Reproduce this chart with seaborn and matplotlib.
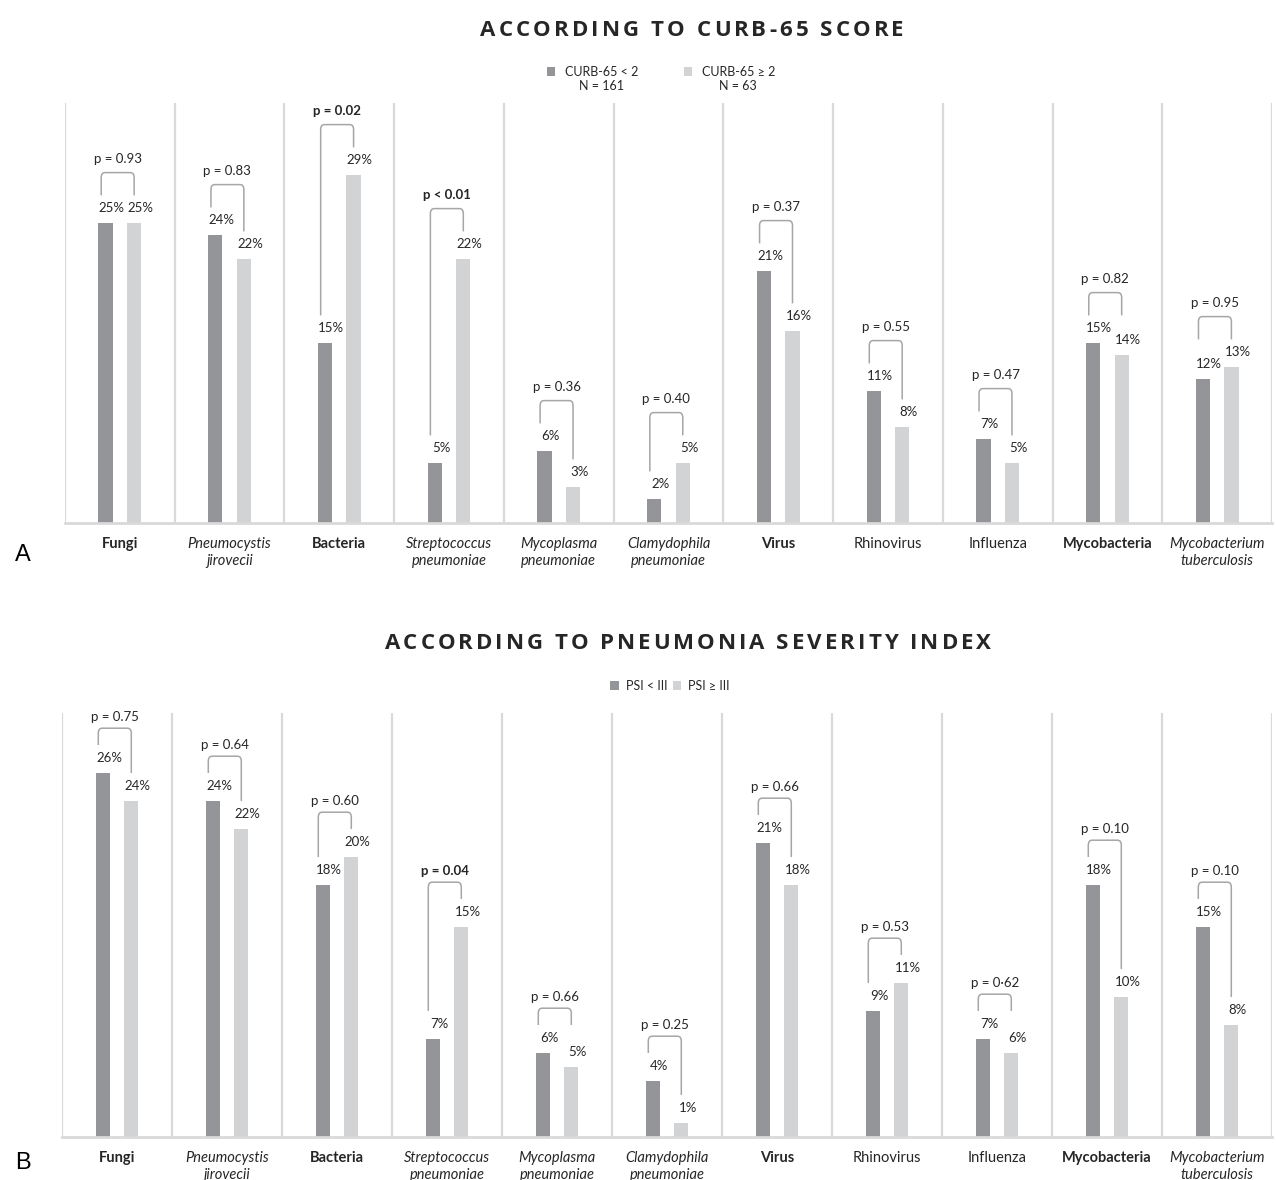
import matplotlib
matplotlib.use('Agg')
import matplotlib.pyplot as plt
import seaborn as sns
import pandas as pd
from matplotlib.path import Path
from matplotlib.patches import PathPatch, Patch

# ---------------- data ----------------
categories = ["Fungi", "Pneumocystis\njirovecii", "Bacteria", "Streptococcus\npneumoniae",
              "Mycoplasma\npneumoniae", "Clamydophila\npneumoniae", "Virus", "Rhinovirus",
              "Influenza", "Mycobacteria", "Mycobacterium\ntuberculosis"]

curb_low = [25, 24, 15, 5, 6, 2, 21, 11, 7, 15, 12]
curb_high = [25, 22, 29, 22, 3, 5, 16, 8, 5, 14, 13]
curb_p = ["p = 0.93", "p = 0.83", "p = 0.02", "p < 0.01", "p = 0.36", "p = 0.40",
          "p = 0.37", "p = 0.55", "p = 0.47", "p = 0.82", "p = 0.95"]
curb_sig = [False, False, True, True, False, False, False, False, False, False, False]
curb_groups = ["CURB-65 < 2", "CURB-65 \u2265 2"]
curb_n = ["N = 161", "N = 63"]

psi_low = [26, 24, 18, 7, 6, 4, 21, 9, 7, 18, 15]
psi_high = [24, 22, 20, 15, 5, 1, 18, 11, 6, 10, 8]
psi_p = ["p = 0.75", "p = 0.64", "p = 0.60", "p = 0.04", "p = 0.66", "p = 0.25",
         "p = 0.66", "p = 0.53", "p = 0\u00b762", "p = 0.10", "p = 0.10"]
psi_sig = [False, False, False, True, False, False, False, False, False, False, False]
psi_groups = ["PSI < III", "PSI \u2265 III"]

# label styles (presentation, not data)
label_styles = ["bold", "italic", "bold", "italic", "italic", "italic",
                "bold", "normal", "normal", "bold", "italic"]

# ---------------- style ----------------
sns.set_theme(style="white")
plt.rcParams['font.family'] = ['Lato', 'DejaVu Sans']

DARK = '#939598'
LIGHT = '#d1d3d4'
SEP = '#d9d9d9'
BRK = '#a6a6a6'
TXT = '#262626'

W, H = 1276, 1180
fig = plt.figure(figsize=(W / 100, H / 100), dpi=100)
axA = fig.add_axes([65 / W, 1 - 523 / H, 1207 / W, 420 / H])
axB = fig.add_axes([62 / W, 1 - 1137 / H, 1210 / W, 424 / H])


def draw_panel(ax, low, high, pvals, sig, groups, ymax, top_off, leg_off, p_off):
    n = len(categories)
    df = pd.DataFrame({
        "cat": categories * 2,
        "val": low + high,
        "grp": [groups[0]] * n + [groups[1]] * n,
    })
    sns.barplot(data=df, x="cat", y="val", hue="grp", hue_order=groups,
                order=categories, palette=[DARK, LIGHT], width=0.52, gap=0.5,
                saturation=1, errorbar=None, linewidth=0, legend=False, ax=ax)
    ax.set_xlim(-0.5, n - 0.5)
    ax.set_ylim(0, ymax)
    for s in ["top", "left", "right"]:
        ax.spines[s].set_visible(False)
    ax.spines["bottom"].set_color(SEP)
    ax.spines["bottom"].set_linewidth(2)
    for k in range(n + 1):
        ax.axvline(k - 0.5, color=SEP, lw=1.6, zorder=0)
    ax.set_yticks([])
    ax.set_xlabel("")
    ax.set_ylabel("")
    ax.tick_params(axis="x", length=0, pad=10)
    ax.set_xticks(range(n))
    ax.set_xticklabels(categories, fontsize=10.5, color=TXT, linespacing=1.3)
    for lab, st in zip(ax.get_xticklabels(), label_styles):
        if st == "bold":
            lab.set_fontweight("bold")
        elif st == "italic":
            lab.set_fontstyle("italic")

    c0, c1 = ax.containers[0], ax.containers[1]
    for i in range(n):
        b0, b1 = c0[i], c1[i]
        x0 = b0.get_x() + b0.get_width() / 2
        x1 = b1.get_x() + b1.get_width() / 2
        v0, v1 = low[i], high[i]
        for xx, vv in ((x0, v0), (x1, v1)):
            ax.annotate(f"{vv}%", (xx, vv), xytext=(4.5, 10.5), textcoords="offset points",
                        ha="center", va="center", fontsize=9.5, color=TXT)
        # bracket
        vmax = max(v0, v1)
        top = vmax + top_off
        l0 = (vmax if vmax - v0 <= 1 else v0) + leg_off
        l1 = (vmax if vmax - v1 <= 1 else v1) + leg_off
        xl = x0 - 0.04
        xr = x1
        rx, ry = 0.035, ymax * 0.012
        verts = [(xl, l0), (xl, top - ry), (xl, top), (xl + rx, top),
                 (xr - rx, top), (xr, top), (xr, top - ry), (xr, l1)]
        codes = [Path.MOVETO, Path.LINETO, Path.CURVE3, Path.CURVE3,
                 Path.LINETO, Path.CURVE3, Path.CURVE3, Path.LINETO]
        ax.add_patch(PathPatch(Path(verts, codes), fill=False, edgecolor=BRK, lw=1.1,
                               clip_on=False))
        ax.text((xl + xr) / 2, top + p_off, pvals[i], ha="center", va="center",
                fontsize=9.5, color=TXT, fontweight="bold" if sig[i] else "normal",
                clip_on=False)


draw_panel(axA, curb_low, curb_high, curb_p, curb_sig, curb_groups, 35, 4.2, 2.3, 1.1)
draw_panel(axB, psi_low, psi_high, psi_p, psi_sig, psi_groups, 424 / 14, 3.2, 2.0, 0.8)

fig.canvas.draw()
renderer = fig.canvas.get_renderer()


def spaced_title(xc_px, yc_px, s, spacing_px, **kw):
    widths = []
    for ch in s:
        t = fig.text(0, 0, ch if ch != " " else "\u00a0", **kw)
        if ch == " ":
            t.set_text("a a")
            w_full = t.get_window_extent(renderer).width
            t.set_text("aa")
            w = w_full - t.get_window_extent(renderer).width
        else:
            w = t.get_window_extent(renderer).width
        t.remove()
        widths.append(w)
    total = sum(widths) + spacing_px * (len(s) - 1)
    x = xc_px - total / 2
    for ch, w in zip(s, widths):
        if ch != " ":
            fig.text(x / W, 1 - yc_px / H, ch, ha="left", va="center", **kw)
        x += w + spacing_px


title_kw = dict(fontsize=16, fontweight="bold", family=["Open Sans", "DejaVu Sans"], color=TXT)
spaced_title(692, 30, "ACCORDING TO CURB-65 SCORE", 3.1, **title_kw)
spaced_title(688, 644, "ACCORDING TO PNEUMONIA SEVERITY INDEX", 3.0, **title_kw)

# panel letters
fig.text(15 / W, 1 - 555 / H, "A", ha="left", va="center", fontsize=17,
         family=["Liberation Sans", "DejaVu Sans"], color="black")
fig.text(15 / W, 1 - 1163 / H, "B", ha="left", va="center", fontsize=17,
         family=["Liberation Sans", "DejaVu Sans"], color="black")

# legends
hA = [Patch(facecolor=DARK, edgecolor="none"), Patch(facecolor=LIGHT, edgecolor="none")]
legA = fig.legend(hA, curb_groups, loc="center", bbox_to_anchor=(661 / W, 1 - 72 / H),
                  ncol=2, frameon=False, fontsize=9, handlelength=0.65, handleheight=0.65,
                  handletextpad=0.8, columnspacing=3.6, labelcolor=TXT)
legB = fig.legend(hA, psi_groups, loc="center", bbox_to_anchor=(670 / W, 1 - 686 / H),
                  ncol=2, frameon=False, fontsize=9, handlelength=0.65, handleheight=0.65,
                  handletextpad=0.6, columnspacing=0.4, labelcolor=TXT)

fig.canvas.draw()
for t, ntxt in zip(legA.get_texts(), curb_n):
    bb = t.get_window_extent(renderer)
    xc = (bb.x0 + bb.x1) / 2 / W
    fig.text(xc, 1 - 86 / H, ntxt, ha="center", va="center", fontsize=9, color=TXT)

fig.savefig("out.png", dpi=100)
